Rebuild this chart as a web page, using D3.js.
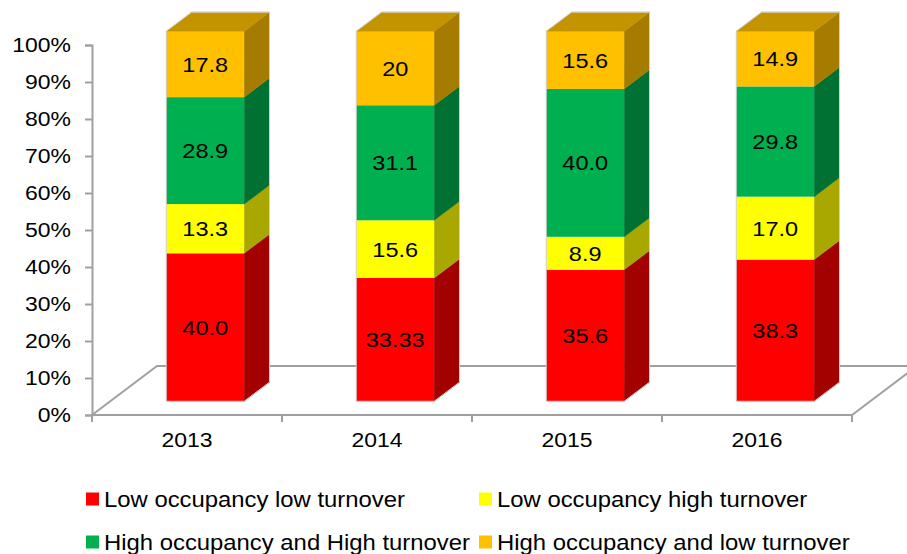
<!DOCTYPE html>
<html>
<head>
<meta charset="utf-8">
<script src="https://cdn.jsdelivr.net/npm/d3@7"></script>
<style>
  body { margin: 0; background: #fff; }
  svg { display: block; font-family: "Liberation Sans", Arial, sans-serif; }
</style>
</head>
<body>
<svg id="chart" width="907" height="554"></svg>
<script>
// chart data
const years = ['2013', '2014', '2015', '2016'];
const seriesNames = ['Low occupancy low turnover', 'Low occupancy high turnover',
                     'High occupancy and High turnover', 'High occupancy and low turnover'];
const lowLow   = [40.0, 33.33, 35.6, 38.3];
const lowHigh  = [13.3, 15.6, 8.9, 17.0];
const highHigh = [28.9, 31.1, 40.0, 29.8];
const highLow  = [17.8, 20, 15.6, 14.9];
// labels as printed on the bars
const lowLowLabels   = ['40.0', '33.33', '35.6', '38.3'];
const lowHighLabels  = ['13.3', '15.6', '8.9', '17.0'];
const highHighLabels = ['28.9', '31.1', '40.0', '29.8'];
const highLowLabels  = ['17.8', '20', '15.6', '14.9'];
const yTicks = [0, 0.1, 0.2, 0.3, 0.4, 0.5, 0.6, 0.7, 0.8, 0.9, 1];

const front = ['#ff0000', '#ffff00', '#00b050', '#ffc000'];
const side  = ['#a30000', '#a8a800', '#007132', '#a67c00'];
const topC  = ['#c40000', '#c8c800', '#00893c', '#c49400'];

const svg = d3.select('#chart');
const grey = '#a0a0a0';
const stretch = 1.12; // the picture's text is a little wider than tall

// floor geometry
const floorDx = 65, floorDy = -49;
const frontFrac = 0.28, backFrac = 0.67;

const x = d3.scaleBand().domain(years).range([92, 852]).padding(0);
const y = d3.scaleLinear().domain([0, 1]).range([415, 45]);

const keys = seriesNames;
const table = years.map((yr, i) => ({
    year: yr,
    [keys[0]]: lowLow[i], [keys[1]]: lowHigh[i],
    [keys[2]]: highHigh[i], [keys[3]]: highLow[i]
}));
const labels = [lowLowLabels, lowHighLabels, highHighLabels, highLowLabels];
const stacked = d3.stack().keys(keys).offset(d3.stackOffsetExpand)(table);

// floor
const x0 = x.range()[0], x1 = x.range()[1], y0 = y(0);
svg.append('path')
    .attr('d', `M ${x0} ${y0} L ${x0 + floorDx} ${y0 + floorDy} L ${x1 + floorDx} ${y0 + floorDy}
                L ${x1} ${y0} Z`)
    .attr('fill', 'none')
    .attr('stroke', grey)
    .attr('stroke-width', 2);

// y axis
const yAxis = svg.append('g')
    .attr('transform', `translate(${x0},0)`)
    .call(d3.axisLeft(y).tickValues(yTicks).tickSize(7).tickPadding(14)
        .tickFormat(d => Math.round(d * 100) + '%'));
yAxis.select('.domain').attr('stroke', grey).attr('stroke-width', 2);
yAxis.selectAll('.tick line').attr('stroke', grey).attr('stroke-width', 2);
yAxis.selectAll('.tick text')
    .attr('font-size', 20.5).attr('fill', '#000')
    .attr('transform', function () {
        const tx = +d3.select(this).attr('x');
        return `translate(${tx * (1 - stretch)},0) scale(${stretch},1)`;
    });

// x axis ticks at band edges
const edges = years.map(d => x(d)).concat([x1]);
svg.selectAll('line.xtick').data(edges).enter().append('line')
    .attr('class', 'xtick')
    .attr('x1', d => d).attr('x2', d => d)
    .attr('y1', y0).attr('y2', y0 + 7)
    .attr('stroke', grey).attr('stroke-width', 2);
svg.selectAll('text.year').data(years).enter().append('text')
    .attr('class', 'year')
    .attr('transform', d => `translate(${x(d) + x.bandwidth() / 2},447) scale(${stretch},1)`)
    .attr('text-anchor', 'middle')
    .attr('font-size', 20.5)
    .text(d => d);

// 3d bars
const barW = x.bandwidth() * 0.41;
const fdx = floorDx * frontFrac, fdy = floorDy * frontFrac;
const bdx = floorDx * (backFrac - frontFrac), bdy = floorDy * (backFrac - frontFrac);

const bars = svg.selectAll('g.bar').data(years).enter().append('g').attr('class', 'bar');
bars.each(function (yr, i) {
    const g = d3.select(this);
    const left = x(yr) + x.bandwidth() / 2 - barW / 2 + fdx;
    const right = left + barW;
    stacked.forEach((s, k) => {
        const yb = y(s[i][0]) + fdy, yt = y(s[i][1]) + fdy;
        g.append('path')
            .attr('d', `M ${right} ${yb} L ${right} ${yt} L ${right + bdx} ${yt + bdy} L ${right + bdx} ${yb + bdy} Z`)
            .attr('fill', side[k])
            .attr('stroke', side[k]).attr('stroke-width', 0.5);
        g.append('rect')
            .attr('x', left).attr('y', yt)
            .attr('width', barW).attr('height', yb - yt)
            .attr('fill', front[k]);
        if (k === stacked.length - 1) {
            g.append('path')
                .attr('d', `M ${left} ${yt} L ${left + bdx} ${yt + bdy} L ${right + bdx} ${yt + bdy} L ${right} ${yt} Z`)
                .attr('fill', topC[k])
                .attr('stroke', topC[k]).attr('stroke-width', 0.5);
        }
        g.append('text')
            .attr('transform', `translate(${left + barW / 2},${(yb + yt) / 2}) scale(${stretch},1)`)
            .attr('text-anchor', 'middle')
            .attr('dy', '0.36em')
            .attr('font-size', 21)
            .text(labels[k][i]);
    });
    // faint outline round the whole block
    const yTop = y(1) + fdy, yBot = y(0) + fdy;
    g.append('path')
        .attr('d', `M ${left} ${yBot} L ${left} ${yTop} L ${left + bdx} ${yTop + bdy} L ${right + bdx} ${yTop + bdy}
                    L ${right + bdx} ${yBot + bdy} L ${right} ${yBot} Z`)
        .attr('fill', 'none')
        .attr('stroke', '#d0d0d0').attr('stroke-width', 1);
});

// legend
const legendPos = [[86, 499], [479, 499], [86, 542], [479, 542]];
const legend = svg.selectAll('g.legend').data(seriesNames).enter().append('g')
    .attr('class', 'legend')
    .attr('transform', (d, i) => `translate(${legendPos[i][0]},${legendPos[i][1]})`);
legend.append('rect')
    .attr('x', 0).attr('y', -6.5).attr('width', 13).attr('height', 13)
    .attr('fill', (d, i) => front[i]);
legend.append('text')
    .attr('transform', `translate(18,0) scale(1.11,1)`)
    .attr('dy', '0.36em')
    .attr('font-size', 21.5)
    .text(d => d);
</script>
</body>
</html>
